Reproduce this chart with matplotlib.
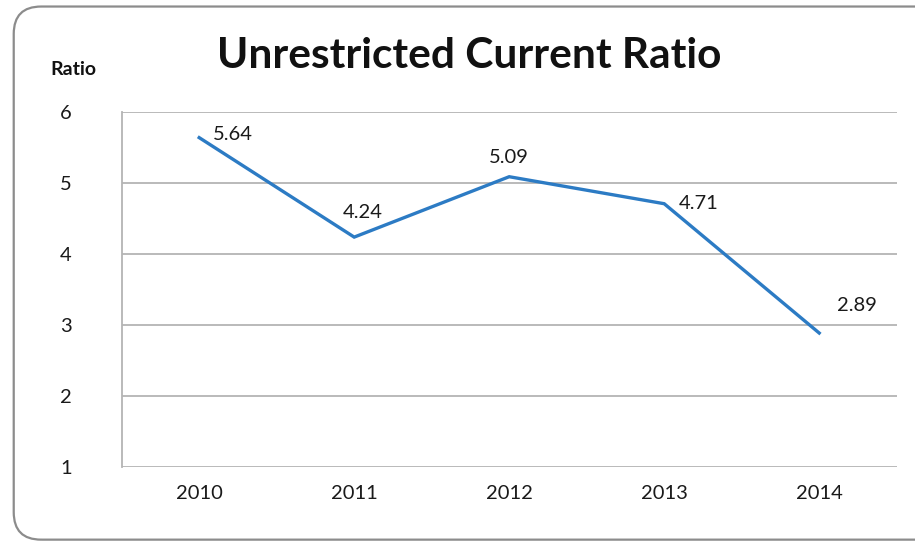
import matplotlib.pyplot as plt
from matplotlib.patches import FancyBboxPatch

years = ['2010', '2011', '2012', '2013', '2014']
ratios = [5.64, 4.24, 5.09, 4.71, 2.89]
y_ticks = [1, 2, 3, 4, 5, 6]

# label offsets in points, picked by eye
label_offsets = [(24, 2), (6, 18), (0, 14), (25, 0), (27, 20)]

plt.rcParams['font.family'] = ['Lato', 'DejaVu Sans']

fig = plt.figure(figsize=(9.15, 5.44), dpi=100)
ax = fig.add_axes([0.133, 0.141, 0.847, 0.653])

# rounded frame round the whole chart
frame = FancyBboxPatch((0.015, 0.008), 1.2, 0.98, boxstyle='round,pad=0,rounding_size=0.03',
                       transform=fig.transFigure, facecolor='none', edgecolor='#8c8c8c',
                       linewidth=1.6, mutation_aspect=915 / 544)
fig.patches.append(frame)

x = list(range(len(years)))
ax.plot(x, ratios, color='#2C7BC4', linewidth=2.4, solid_joinstyle='miter')
for xi, v, off in zip(x, ratios, label_offsets):
    ax.annotate('%.2f' % v, (xi, v), xytext=off, textcoords='offset points',
                ha='center', va='center', fontsize=14.5, color='#1a1a1a')

ax.set_xlim(-0.5, 4.5)
ax.set_ylim(1, 6)
ax.set_xticks(x)
ax.set_xticklabels(years)
ax.set_yticks(y_ticks)
ax.tick_params(length=0, labelsize=14.5, labelcolor='#1a1a1a')
ax.tick_params(axis='x', pad=13)
ax.tick_params(axis='y', pad=36)
ax.grid(axis='y', color='#b4b4b4', linewidth=1.3)
ax.set_axisbelow(True)
for side in ['top', 'right', 'bottom']:
    ax.spines[side].set_visible(False)
ax.spines['left'].set_color('#b4b4b4')
ax.spines['left'].set_linewidth(1.3)

fig.text(0.513, 0.897, 'Unrestricted Current Ratio', ha='center', va='center',
         fontsize=30.5, fontweight='bold', color='#111111')
fig.text(0.08, 0.872, 'Ratio', ha='center', va='center', fontsize=14,
         fontweight='bold', color='#111111')

fig.savefig('out.png', dpi=100)
